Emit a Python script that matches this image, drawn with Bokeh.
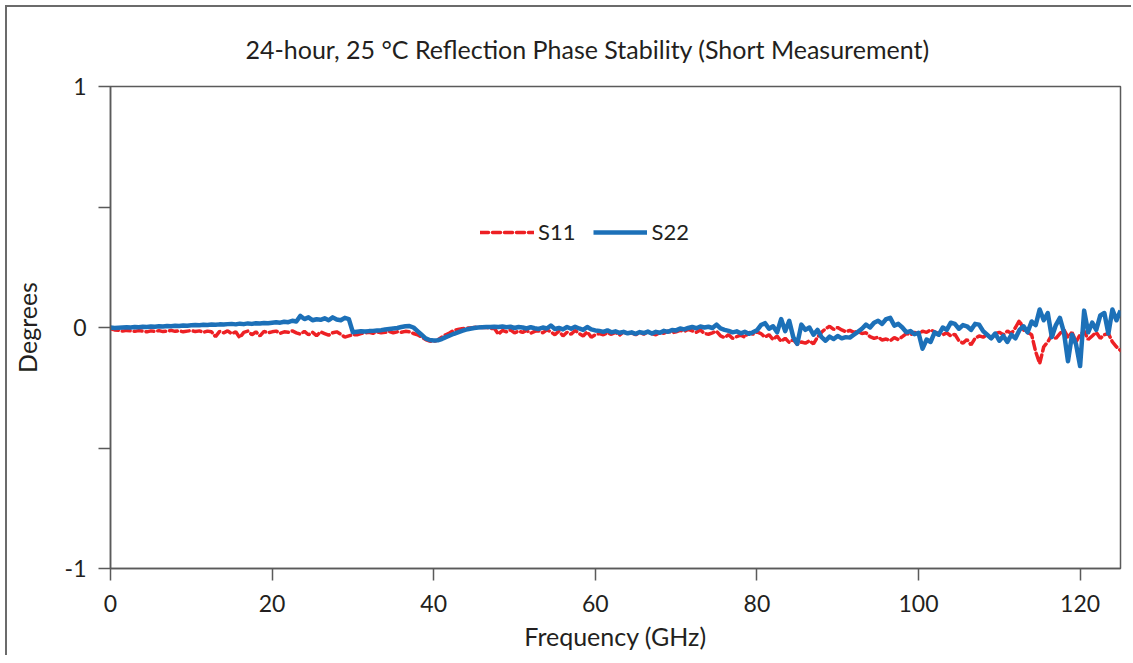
from bokeh.plotting import figure
from bokeh.models import FixedTicker, Legend, LegendItem, Range1d, CustomJSTickFormatter
from bokeh.embed import file_html
from bokeh.resources import INLINE

# Frequency grid (GHz), 0.5 GHz step from 0 to 125
freq = [i * 0.5 for i in range(251)]

# Phase drift values in millidegrees
s11_mdeg = [
    -5, -10, -12, -15, -12, -14, -16, -13, -15, -18, -14, -16, -13, -17, -15, -12, -16, -14, -18, -15, -13,
    -17, -14, -20, -15, -18, -38, -16, -22, -14, -26, -18, -42, -20, -15, -30, -18, -35, -16, -22, -18,
    -15, -24, -18, -20, -14, -22, -28, -16, -30, -20, -34, -18, -25, -32, -22, -18, -28, -40, -35, -30,
    -30, -25, -22, -20, -24, -18, -22, -20, -16, -22, -18, -20, -16, -18, -25, -30, -40, -50, -56, -58,
    -52, -40, -30, -22, -12, -8, -5, -3, -2, 0, 2, 0, 1, -4, -3, -28, -12, -18, -10, -22,
    -15, -20, -12, -24, -16, -14, -22, -10, -18, -30, -15, -35, -20, -28, -12, -25, -35, -18, -40, -30,
    -25, -30, -22, -28, -20, -32, -18, -26, -22, -30, -20, -28, -18, -25, -30, -20, -24, -15, -22, -18,
    -12, -16, -8, -14, -20, -10, -25, -28, -22, -15, -35, -42, -30, -45, -38, -32, -40, -20, -28, -18,
    -25, -40, -30, -50, -35, -58, -45, -62, -50, -70, -60, -65, -55, -68, -40, -20, -5, 5, -8, 0,
    -10, -18, -12, -20, -15, -25, -22, -38, -45, -40, -52, -48, -55, -42, -50, -38, -25, -30, -20, -28,
    -15, -20, -10, -18, -25, -30, -22, -35, -28, -55, -65, -50, -72, -45, -35, -40, -30, -45, -25, -20,
    -30, -15, -25, 0, 30, -10, -20, -30, -100, -150, -80, -60, -30, -45, -25, -10, -40, -20, -60, -30,
    -15, -50, -35, -20, -45, -30, -25, -60, -80, -95,
]

s22_mdeg = [
    0, -2, -1, 0, 1, 0, 2, 1, 3, 2, 4, 3, 5, 4, 6, 5, 7, 6, 8, 7, 9,
    10, 9, 11, 10, 12, 11, 13, 12, 14, 15, 13, 16, 14, 17, 15, 18, 17, 19, 18, 20,
    22, 20, 24, 22, 28, 25, 48, 35, 42, 30, 34, 32, 38, 30, 42, 33, 30, 40, 35, -20,
    -18, -16, -17, -15, -14, -12, -11, -8, -6, -4, -2, 2, 5, 6, 0, -15, -30, -45, -52, -54,
    -53, -48, -40, -33, -26, -20, -14, -9, -5, -2, 0, 1, 2, 2, 3, 2, 4, 1, 3, -2,
    2, 0, -4, 1, -3, -6, 0, -4, 8, -6, -2, -8, 2, -5, 3, -4, -10, 2, -8, -12,
    -14, -18, -12, -20, -16, -22, -18, -24, -20, -26, -19, -23, -17, -25, -18, -22, -14, -18, -10, -12,
    -4, -8, -2, 2, -3, 4, 0, 3, -2, 12, -4, -10, -14, -20, -16, -24, -18, -26, -20, -12,
    10, 18, -5, 5, -20, 35, -15, 28, -40, -68, 12, -10, 0, -30, -10, -40, -55, -38, -48, -35,
    -45, -40, -42, -30, -18, -5, 12, 0, 20, 28, 15, 35, 40, 8, 15, 0, -20, -15, -28, -22,
    -88, -50, -60, -20, -30, 0, -10, 20, 15, -5, 10, 5, -10, 15, 12, -15, -30, -45, -25, -55,
    -35, -60, -30, -45, -10, 5, -20, 25, 10, 75, 30, 60, -40, 10, 40, -20, -140, -30, -70, -160,
    70, -20, 20, -10, 50, 60, -25, 75, 30, 70,
]

x_ticks = [0, 20, 40, 60, 80, 100, 120]
y_ticks = [-1, 0, 1]
y_minor_ticks = [-0.5, 0.5]
series_names = ["S11", "S22"]

s11 = [v / 1000 for v in s11_mdeg]
s22 = [v / 1000 for v in s22_mdeg]

FONT = "Lato"
TXT = "#231F20"
AX = "#5a5a5a"
RED = "#ED2024"
BLUE = "#1C70B8"

p = figure(width=1126, height=650, output_backend="svg", toolbar_location=None,
           x_range=Range1d(0, 125), y_range=Range1d(-1, 1),
           min_border_left=103, min_border_right=13, min_border_top=79, min_border_bottom=89)
# outer chart border: left and top edges (the others fall outside the window)
p.styles = {"border-left": "2px solid #6b6b6b", "border-top": "2px solid #6b6b6b",
            "margin-left": "5px", "margin-top": "5px"}

p.title.text = "24-hour, 25 \u00b0C Reflection Phase Stability (Short Measurement)"
p.title.align = "left"
p.title.offset = 135
p.title.text_font = FONT
p.title.text_font_size = "25px"
p.title.text_font_style = "normal"
p.title.text_color = TXT
p.title.standoff = 46

p.grid.visible = False
p.outline_line_color = AX
p.outline_line_width = 1.5
p.background_fill_color = "white"
p.border_fill_color = "white"

xa = p.xaxis[0]
xa.ticker = FixedTicker(ticks=x_ticks)
xa.axis_label = "Frequency (GHz)"
ya = p.yaxis[0]
ya.ticker = FixedTicker(ticks=y_ticks, minor_ticks=y_minor_ticks)
ya.formatter = CustomJSTickFormatter(code="return tick.toString();")
ya.axis_label = "Degrees"
for ax in (xa, ya):
    ax.axis_line_color = AX
    ax.axis_line_width = 1.5
    ax.major_tick_line_color = AX
    ax.major_tick_line_width = 1.5
    ax.major_tick_in = 0
    ax.major_tick_out = 12
    ax.major_label_text_font = FONT
    ax.major_label_text_font_size = "23px"
    ax.major_label_text_color = TXT
    ax.axis_label_text_font = FONT
    ax.axis_label_text_font_size = "25px"
    ax.axis_label_text_font_style = "normal"
    ax.axis_label_text_color = TXT
ya.minor_tick_line_color = AX
ya.minor_tick_line_width = 1.5
ya.minor_tick_in = 0
ya.minor_tick_out = 12
xa.minor_tick_line_color = None
xa.major_label_standoff = 14
xa.axis_label_standoff = 6
ya.major_label_standoff = 12
ya.axis_label_standoff = 20

r11 = p.line(freq, s11, line_color=RED, line_width=3.5, line_dash="8 4", line_cap="round")
r22 = p.line(freq, s22, line_color=BLUE, line_width=4.5, line_join="round")

legend = Legend(items=[LegendItem(label=series_names[0], renderers=[r11]),
                       LegendItem(label=series_names[1], renderers=[r22])],
                orientation="horizontal", location=(370, 323),
                border_line_color=None, background_fill_alpha=0,
                padding=0, margin=0, spacing=18, label_standoff=4,
                glyph_width=54, glyph_height=20,
                label_text_font=FONT, label_text_font_size="22px", label_text_color=TXT)
p.add_layout(legend, "center")

open("out.html", "w").write(file_html(p, INLINE))
